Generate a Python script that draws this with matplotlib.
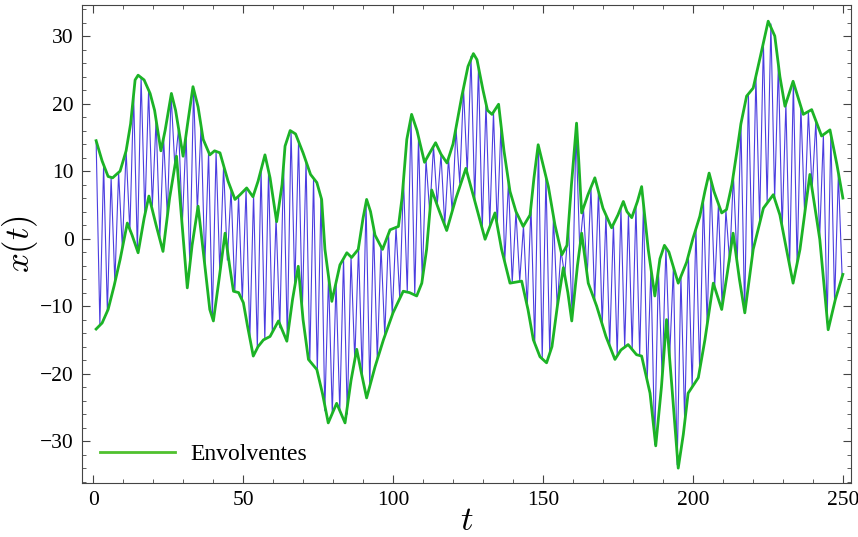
import numpy as np
import matplotlib.pyplot as plt
from matplotlib.ticker import MultipleLocator

# envelopes (t, x)
up_t = [1, 3, 5, 6.5, 9, 11, 12.5, 14, 15, 17, 19, 20.5, 22.6, 24, 26.1, 27.5,
        30, 31.5, 33.3, 35, 36.7, 38.9, 40.5, 42.3, 45, 47.3, 49, 51.2, 53.3,
        55, 57.3, 59, 61.2, 63, 64, 65.7, 67.5, 70, 72.5, 74.6, 76.2, 77.3,
        79.6, 81, 82.3, 84.6, 86.2, 88.4, 90, 91.2, 92.5, 94, 96.5, 99, 101.8,
        103, 104.6, 106.2, 108, 110.5, 112, 114.2, 116, 118, 120, 122.9, 125,
        126.8, 128, 130, 131.5, 133, 135.2, 137, 139, 141, 143.4, 145.7, 147,
        148.4, 150, 151.8, 154, 156.3, 158, 159.5, 161.2, 162, 162.9, 165,
        167.3, 170, 172.9, 175, 176.8, 178, 179.6, 181.5, 182.9, 184, 185.1,
        187.3, 189, 190.5, 192, 195.1, 197.9, 200, 202.3, 204, 205.4, 207,
        209.6, 211.2, 213, 214.6, 216, 217.9, 220.1, 222.5, 225.1, 227.3, 229,
        230.7, 233.4, 236.8, 239.6, 242.9, 245.7, 248, 250]
up_x = [14.5, 11.5, 9.2, 9.0, 10, 13, 17, 23.5, 24.2, 23.5, 21.5, 19, 13, 16,
        21.5, 19, 12.2, 17, 22.5, 19.5, 14.7, 12.4, 13, 12.7, 8.5, 5.8, 6.5,
        7.5, 6.2, 8.5, 12.4, 9, 2.5, 8, 13.7, 16, 15.5, 12.7, 9.5, 8.3, 5.8,
        -1.6, -9.3, -6.5, -3.9, -2.1, -2.8, -1.6, 3, 5.8, 4, 0.5, -1.6, 1.3,
        1.8, 6, 14.7, 18.4, 16, 11.3, 12.5, 14.2, 12.5, 11.2, 14, 21, 25.5,
        27.4, 26.5, 22, 19, 18.4, 19.9, 13, 7, 4, 1.8, 3.5, 9, 13.9, 11, 7.7,
        2, -2.4, -1, 8, 17.1, 11, 3.8, 6.5, 9.0, 4.5, 1.6, 3.5, 5.5, 4, 3.1,
        5.5, 7.7, 3, -1.6, -8.5, -3, -1, -2, -6.6, -3.5, 0, 3.3, 7, 9.7, 7,
        3.8, 4.3, 8, 12.7, 17, 21.1, 22.3, 27, 32.2, 30, 24, 19.6, 23.3, 18.4,
        19.1, 15.2, 16.1, 11, 6.0]

lo_t = [1, 3, 5, 7, 9, 11.4, 13, 15, 17, 18.6, 21, 23.3, 25.5, 27.8, 29.5,
        31.4, 33, 35, 37, 38.9, 40.1, 42, 44, 45.5, 46.8, 48.5, 50.1, 51.5,
        53.4, 55, 56.8, 59, 61.8, 64.6, 66.5, 68.4, 70, 71.8, 74.6, 76.5, 78.4,
        81.2, 84, 86, 87.9, 89.5, 91.2, 94, 96.8, 100, 103.4, 105.5, 107.9,
        109.6, 111.2, 112.9, 115.5, 117.9, 121, 124.3, 127, 130.7, 134, 136.2,
        139, 142.9, 145, 146.8, 149, 151.2, 153, 154.8, 156.8, 158.3, 159.6,
        161.5, 162.9, 165.1, 167.9, 171, 174, 176, 178.4, 181.2, 182.9, 185.7,
        187.6, 189.5, 191.2, 193, 195.1, 196.8, 198.4, 201.8, 204, 206.8,
        209.6, 211.5, 213.4, 215.5, 217.3, 220.1, 223.5, 226.8, 229, 231.2,
        233.4, 235.7, 239, 242.3, 245.1, 247.5, 250]
lo_x = [-13.4, -12.5, -10.5, -7, -3.1, 2.3, 0.5, -2.1, 3, 6.3, 2, -1.9, 6,
        12.2, 3, -7.3, -1, 4.8, -3, -10.5, -12.2, -6, 0.8, -4, -7.8, -8, -9.5,
        -13, -17.4, -16, -15, -14.5, -12.2, -15.2, -9, -4.1, -12, -17.9, -19.4,
        -23, -27.3, -24.4, -27.3, -21, -16.4, -20, -23.6, -19, -15, -11, -7.8,
        -8, -8.5, -6.6, -1.6, 7.2, 4, 1.2, 6, 10.4, 6, -0.1, 3.8, -1.6, -6.6,
        -6.3, -10.5, -15, -17.5, -18.4, -16, -10, -4.3, -8, -12.2, -4, 0.8,
        -6.6, -10, -14.5, -17.9, -16.5, -15.7, -17.2, -17.4, -22.9, -30.7, -22,
        -12, -22, -34, -29, -22.9, -20.6, -15, -6.6, -10.5, -5, 0.8, -6, -11,
        -1.6, 4.5, 6.5, 3.5, -1.6, -6.6, -1.6, 9.5, -0.1, -13.5, -9, -5.3]

# signal x(t): its highs (t = 1, 3.5, ...) and lows (t = 2.25, 4.75, ...)
sig_hi = [14.5, 10.9, 9.1, 9.8, 13, 21.3, 23.9, 22, 17.6, 14.9,
          21.3, 16.3, 15.4, 22.2, 16.7, 12.8, 12.9, 10.8, 7.3, 6.3,
          7.4, 6.5, 10.2, 10, 3.1, 10.8, 16, 14.4, 11.4, 8.9,
          6.2, -5.6, -6.5, -3, -2.7, -1.3, 5.3, 1.7, -1.2, 0.7,
          1.7, 8.7, 18, 15, 11.7, 13.7, 12.5, 11.9, 16.3, 22.3,
          27, 25.4, 20, 18.7, 16.8, 8.5, 4, 1.9, 4.7, 13.7,
          9.2, 3.3, -1.8, 2, 16, 4.5, 7.5, 7, 3.5, 2.2,
          4.6, 3.7, 4.8, 5, -4.5, -4.6, -1.3, -4.2, -5.6, -2.5,
          1.5, 5.9, 8.4, 5, 4.2, 9.4, 17, 21.4, 24, 29,
          31.8, 25.8, 20, 23.2, 19.5, 18.8, 17.4, 15.4, 15.5, 9.5]
sig_lo = [-12.8, -10.8, -6.5, -1.4, 1.1, -1.8, 3.5, 4.9, 0.2, 3.3,
          10.7, 2.2, -4.1, 4.1, -4, -11.7, -5.1, -3.2, -7.8, -9.2,
          -14.8, -16.2, -15, -13.9, -13.2, -14.8, -7.2, -10.8, -18.1, -19.7,
          -25.5, -25.9, -25.5, -26, -18, -20.5, -22, -17.9, -14.4, -11.3,
          -8.9, -7.9, -8.4, -6.2, 3.8, 5, 2, 3.8, 8.2, 9.7,
          5.6, 1.4, 2, 1.8, -3.5, -6.5, -6.3, -10, -15.5, -17.8,
          -17, -10.1, -5.4, -11.5, -1.4, -5.5, -9.2, -12.8, -16, -17.4,
          -16.1, -16.4, -17.3, -21, -30.5, -20.5, -17.5, -33.5, -27, -22,
          -19.5, -12.7, -7.2, -10.2, -3.5, -3.7, -11, -2.8, 2.6, 5.5,
          6, 1.4, -4, -3.8, 3.6, 7.3, 0, -12.5, -9.5, -5.6]

t_hi = np.arange(len(sig_hi)) * 2.5 + 1
t_lo = np.arange(len(sig_lo)) * 2.5 + 2.25
t_sig = np.column_stack([t_hi, t_lo]).ravel()
x_sig = np.column_stack([sig_hi, sig_lo]).ravel()

plt.rcParams['font.family'] = ['Liberation Serif', 'DejaVu Serif']
plt.rcParams['mathtext.fontset'] = 'cm'

fig = plt.figure(figsize=(8.58, 5.37), dpi=100)
ax = fig.add_axes([0.0956, 0.1006, 0.8962, 0.8901])

ax.plot(t_sig, x_sig, color='#4b3de0', lw=0.8)
ax.plot(up_t, up_x, color='#1cb326', lw=2.0, solid_joinstyle='round',
        label='Envolventes')
ax.plot(lo_t, lo_x, color='#1cb326', lw=2.0, solid_joinstyle='round')

ax.set_xlim(-3.7, 252.7)
ax.set_ylim(-36.2, 34.6)
ax.xaxis.set_major_locator(MultipleLocator(50))
ax.xaxis.set_minor_locator(MultipleLocator(10))
ax.yaxis.set_major_locator(MultipleLocator(10))
ax.yaxis.set_minor_locator(MultipleLocator(2))
ax.tick_params(which='both', direction='in', top=True, right=True,
               color='#444444', labelsize=15.5, pad=6)
ax.tick_params(which='major', length=6)
ax.tick_params(which='minor', length=3)
for s in ax.spines.values():
    s.set_color('#444444')

ax.set_xlabel('$t$', fontsize=25, labelpad=-4)
ax.set_ylabel('$x(t)$', fontsize=25, labelpad=0)

leg = ax.legend(loc='lower left', frameon=False, fontsize=17,
                handlelength=3.2, handletextpad=0.65, borderaxespad=0.25,
                borderpad=0.5)
leg.get_lines()[0].set_color('#4fc12e')

fig.savefig('out.png', dpi=100)
